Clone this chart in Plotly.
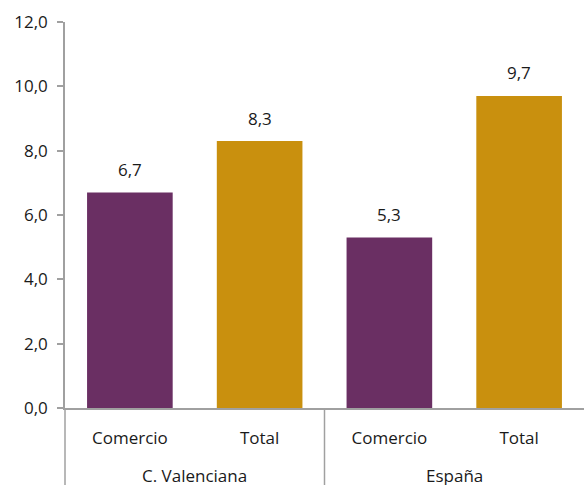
import plotly.graph_objects as go

regions = ["C. Valenciana", "C. Valenciana", "España", "España"]
categories = ["Comercio", "Total", "Comercio", "Total"]
values = [6.7, 8.3, 5.3, 9.7]
colors = ["#6A2F63", "#C9900E", "#6A2F63", "#C9900E"]
y_ticks = [0, 2, 4, 6, 8, 10, 12]

font = dict(family="Open Sans", size=17, color="#1a1a1a")
axis_color = "#A0A0A0"

x_pos = list(range(len(categories)))

fig = go.Figure(
    go.Bar(
        x=x_pos,
        y=values,
        marker=dict(color=colors, line=dict(width=0)),
        width=0.66,
        hoverinfo="y",
    )
)

# value labels above bars
for xi, v in zip(x_pos, values):
    fig.add_annotation(
        x=xi, y=v, xref="x", yref="y",
        text=f"{v:.1f}".replace(".", ","),
        showarrow=False, yshift=23, yanchor="middle",
        font=font,
    )

# group labels and dividers
group_names = []
for r in regions:
    if r not in group_names:
        group_names.append(r)
boundaries = [-0.5]
for g in group_names:
    idx = [i for i, r in enumerate(regions) if r == g]
    fig.add_annotation(
        x=sum(idx) / len(idx), y=0, xref="x", yref="paper",
        text=g, showarrow=False, yshift=-67, yanchor="middle",
        font=font,
    )
    boundaries.append(max(idx) + 0.5)

for i, b in enumerate(boundaries[:-1]):
    if i == 0:
        fig.add_shape(type="line", xref="paper", yref="paper",
                      x0=0, x1=0, y0=0, y1=-0.3,
                      line=dict(color=axis_color, width=1.5))
    else:
        fig.add_shape(type="line", xref="x", yref="paper",
                      x0=b, x1=b, y0=0, y1=-0.3,
                      line=dict(color=axis_color, width=1.5))

fig.update_layout(
    width=584,
    height=485,
    margin=dict(l=65, r=0, t=22, b=77),
    paper_bgcolor="white",
    plot_bgcolor="white",
    separators=",.",
    font=font,
    showlegend=False,
)

fig.update_yaxes(
    range=[0, 12],
    tickvals=y_ticks,
    tickformat=".1f",
    ticks="outside",
    ticklen=6,
    tickcolor=axis_color,
    tickwidth=1.5,
    ticklabelstandoff=6,
    showline=True,
    linecolor=axis_color,
    linewidth=1.5,
    showgrid=False,
    zeroline=False,
    tickfont=font,
)

fig.update_xaxes(
    range=[-0.5, len(categories) - 0.5],
    tickvals=x_pos,
    ticktext=categories,
    ticks="",
    ticklabelstandoff=14,
    showline=True,
    linecolor=axis_color,
    linewidth=1.5,
    showgrid=False,
    zeroline=False,
    tickfont=font,
)

fig.write_html("out.html")
